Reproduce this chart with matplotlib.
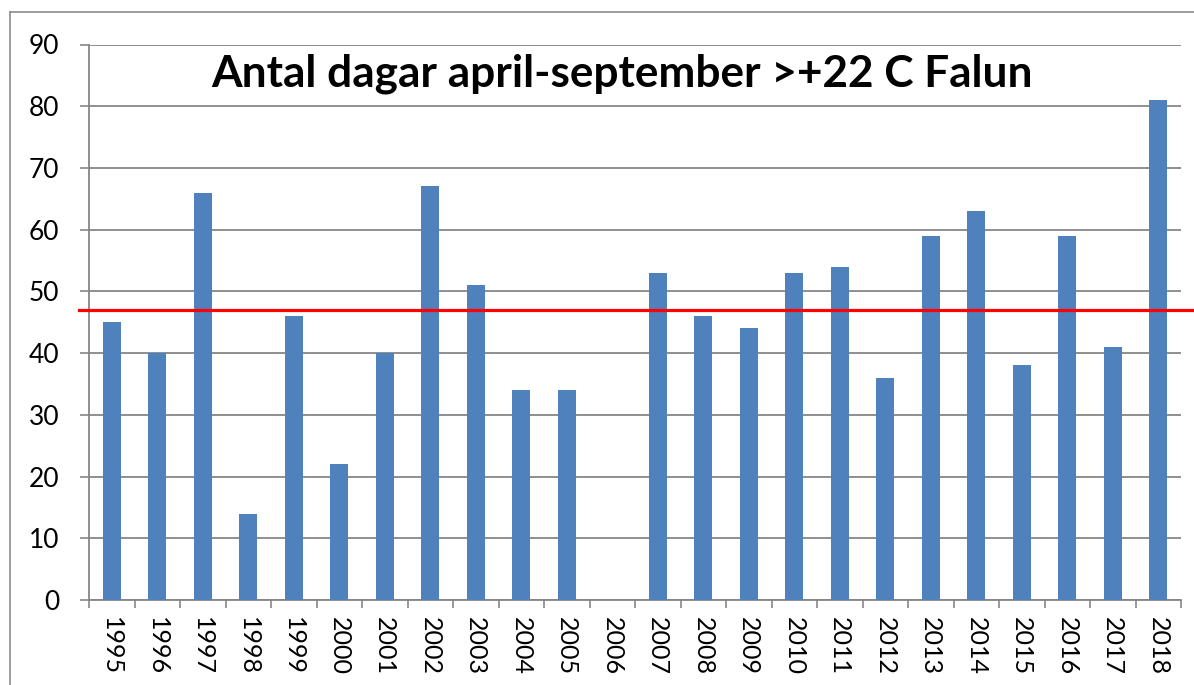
import matplotlib
matplotlib.use("Agg")
import matplotlib.pyplot as plt
from matplotlib.lines import Line2D
import numpy as np

years = ["1995", "1996", "1997", "1998", "1999", "2000", "2001", "2002", "2003",
         "2004", "2005", "2006", "2007", "2008", "2009", "2010", "2011", "2012",
         "2013", "2014", "2015", "2016", "2017", "2018"]
days = [45, 40, 66, 14, 46, 22, 40, 67, 51, 34, 34, 0, 53, 46, 44, 53, 54, 36,
        59, 63, 38, 59, 41, 81]
average = 47
title = "Antal dagar april-september >+22 C Falun"
yticks = [0, 10, 20, 30, 40, 50, 60, 70, 80, 90]

plt.rcParams['font.family'] = ['Lato', 'DejaVu Sans']

W, H = 1194, 685
fig = plt.figure(figsize=(W / 100, H / 100), dpi=100)
ax = fig.add_axes([89 / W, 1 - 600 / H, (1181 - 89) / W, (600 - 44.5) / H])

grid_c = "#868686"
x = np.arange(len(years))
ax.bar(x, days, width=0.4, color="#4F81BD", zorder=3)
ax.set_xlim(-0.5, len(years) - 0.5)
ax.set_ylim(0, 90)
ax.set_yticks(yticks)
ax.yaxis.grid(True, color=grid_c, linewidth=1.3, zorder=0)
ax.set_axisbelow(True)

ax.set_xticks(np.arange(len(years) + 1) - 0.5, minor=False)
ax.set_xticklabels([])
ax.set_xticks(x, minor=True)
ax.set_xticklabels(years, minor=True, rotation=-90, fontsize=18)
ax.tick_params(axis="x", which="major", length=6, color=grid_c, width=1.2)
ax.tick_params(axis="x", which="minor", length=0, pad=12)
ax.tick_params(axis="y", length=6.5, color=grid_c, width=1.2, labelsize=19, pad=15)

for s in ["top", "right"]:
    ax.spines[s].set_visible(False)
for s in ["left", "bottom"]:
    ax.spines[s].set_color(grid_c)
    ax.spines[s].set_linewidth(1.3)

# average line extending beyond the plot area
trans = ax.get_yaxis_transform()
ax.plot([-0.009, 1.02], [average, average], color="#FF0000", linewidth=2.3,
        transform=trans, clip_on=False, zorder=4)

ax.text(0.488, 0.925, title, transform=ax.transAxes, ha="center", va="baseline",
        fontsize=31.8, fontweight="bold", color="black", zorder=5)

# outer chart border
fig.add_artist(Line2D([10 / W, 10 / W], [0, 1 - 12 / H], color="#8C8C8C", linewidth=1.2))
fig.add_artist(Line2D([10 / W, 1], [1 - 12 / H, 1 - 12 / H], color="#8C8C8C", linewidth=1.2))

fig.savefig("out.png", dpi=100)
